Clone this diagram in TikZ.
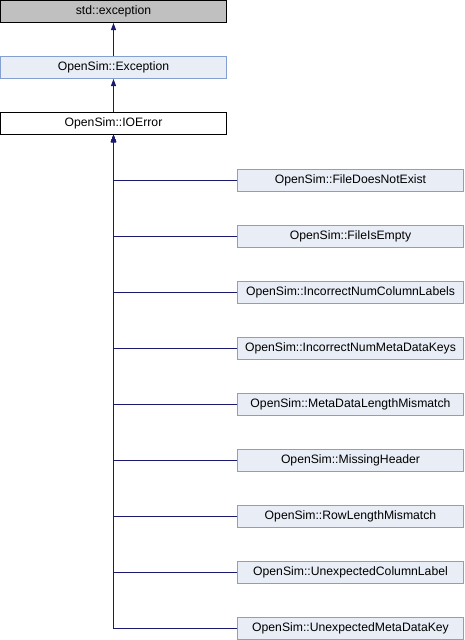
\documentclass[tikz,border=0pt]{standalone}
\usepackage{fontspec}
\setmainfont{Liberation Sans}
\usetikzlibrary{arrows.meta}
\definecolor{edgeblue}{HTML}{191970}
\definecolor{boxfill}{HTML}{E8EDF6}
\definecolor{boxline}{HTML}{84A0D0}
\definecolor{topfill}{HTML}{C0C0C0}
\begin{document}
\begin{tikzpicture}[x=1pt, y=1pt]
\tikzset{classbox/.style={draw=boxline, fill=boxfill, line width=1pt, rectangle,
    minimum width=226pt, minimum height=22pt, inner sep=0pt,
    font=\fontsize{12.2}{14}\selectfont},
  basebox/.style={classbox, draw=black, fill=topfill},
  curbox/.style={classbox, draw=black, fill=white},
  inherit/.style={draw=edgeblue, line width=1pt, {Triangle[length=7pt, width=5pt]}-}}
\useasboundingbox (0, 0) rectangle (464, -640);
\node[basebox] (Std) at (113.5, -11.5) {std::exception};
\node[classbox] (Exc) at (113.5, -67.5) {OpenSim::Exception};
\node[curbox] (IOE) at (113.5, -123.5) {OpenSim::IOError};
\node[classbox] (C1) at (350.5, -180) {OpenSim::FileDoesNotExist};
\node[classbox] (C2) at (350.5, -236) {OpenSim::FileIsEmpty};
\node[classbox] (C3) at (350.5, -292) {OpenSim::IncorrectNumColumnLabels};
\node[classbox] (C4) at (350.5, -348) {OpenSim::IncorrectNumMetaDataKeys};
\node[classbox] (C5) at (350.5, -404) {OpenSim::MetaDataLengthMismatch};
\node[classbox] (C6) at (350.5, -460) {OpenSim::MissingHeader};
\node[classbox] (C7) at (350.5, -516) {OpenSim::RowLengthMismatch};
\node[classbox] (C8) at (350.5, -572) {OpenSim::UnexpectedColumnLabel};
\node[classbox] (C9) at (350.5, -628) {OpenSim::UnexpectedMetaDataKey};
\draw[inherit] (Std) -- (Exc);
\draw[inherit] (Exc) -- (IOE);
\draw[inherit] (IOE) |- (C1);
\draw[inherit] (IOE) |- (C2);
\draw[inherit] (IOE) |- (C3);
\draw[inherit] (IOE) |- (C4);
\draw[inherit] (IOE) |- (C5);
\draw[inherit] (IOE) |- (C6);
\draw[inherit] (IOE) |- (C7);
\draw[inherit] (IOE) |- (C8);
\draw[inherit] (IOE) |- (C9);
\end{tikzpicture}
\end{document}
